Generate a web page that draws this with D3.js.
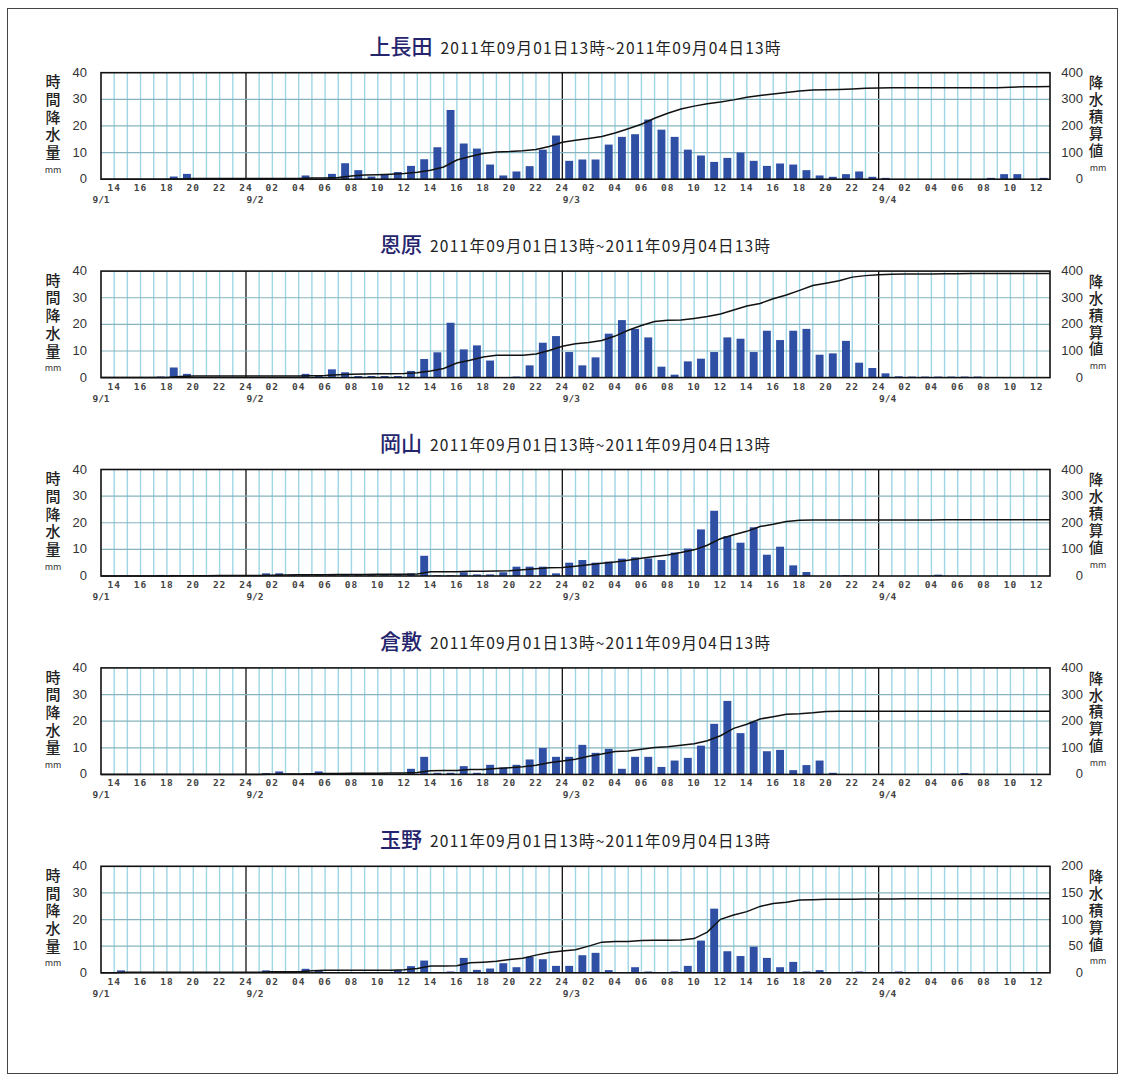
<!DOCTYPE html>
<html>
<head>
<meta charset="utf-8">
<script src="https://cdn.jsdelivr.net/npm/d3@7"></script>
<style>
  body { margin: 0; background: #fff; }
  text { font-family: "Noto Sans CJK JP", "Noto Sans", sans-serif; }
  .tick { font-family: "DejaVu Sans Mono", monospace; font-size: 9.5px; font-weight: bold; fill: #444; }
  .num { font-family: "Liberation Sans", Arial, sans-serif; font-size: 13px; fill: #333; }
  .vert { writing-mode: vertical-rl; font-weight: 500; fill: #222; }
</style>
</head>
<body>
<svg width="1125" height="1081"></svg>
<script>
var svg = d3.select("svg"),
	width = +svg.attr("width"),
	height = +svg.attr("height");

// Stations, one panel each
var stations = ["上長田", "恩原", "岡山", "倉敷", "玉野"];
var period = "2011年09月01日13時~2011年09月04日13時";
var rightMax = [400, 400, 400, 400, 200];

// x tick labels (every 2 hours, from 9/1 14時)
var tickLabels = ["14","16","18","20","22","24",
	"02","04","06","08","10","12","14","16","18","20","22","24",
	"02","04","06","08","10","12","14","16","18","20","22","24",
	"02","04","06","08","10","12"];
var dateLabels = ["9/1", "9/2", "9/3", "9/4"];
var dateHours = [0, 11, 35, 59];
var midnightHours = [11, 35, 59];

// Hourly rainfall (mm), 9/1 14時 ... 9/4 13時 (72 values)
var kamiNagata = [
	0,0,0,0,0,1,2,0,0,0,0,
	0,0,0,0,1.4,0,2,6,3.4,1,1.9,2.7,5,7.5,12,26,13.4,11.5,5.5,1.4,2.9,4.9,11.1,16.4,
	6.9,7.4,7.4,13,15.9,16.9,22.4,18.6,15.9,11.1,8.9,6.5,8,10,6.9,5,5.9,5.5,3.4,1.4,0.9,1.9,2.9,0.9,
	0.5,0,0,0,0,0,0,0,0.5,1.9,1.9,0,0.5];
var onbara = [
	0,0,0,0,0.4,3.8,1.4,0,0,0,0,
	0,0,0,0,1.4,0.8,3.1,2,0.6,0.6,0.6,0.6,2.5,7,9.5,20.6,10.6,12.1,6.4,0,0.4,4.6,13.1,15.6,
	9.6,4.6,7.6,16.5,21.6,18.3,15.1,4.1,1.1,6.1,7.1,9.6,15.1,14.6,9.6,17.6,14.1,17.6,18.3,8.6,9.1,13.8,5.6,3.6,
	1.6,0.5,0.4,0.4,0.4,0.4,0.4,0.4,0,0,0,0,0];
var okayama = [
	0,0,0,0,0.4,0.4,0.3,0.3,0.2,0.2,0.2,
	0,1,1,0.5,0.3,0.3,0.3,0.3,0.3,0.3,0.3,0.3,1,7.6,0.3,0.3,1.4,0.6,0.6,1.4,3.5,3.5,3.5,1,
	5,6,5,5.4,6.5,7,6.6,6,8.8,10.3,17.5,24.5,15,12.5,18.3,8,11,4,1.5,0,0,0.3,0,0,
	0,0,0,0,0.5,0,0,0,0,0,0,0,0];
var kurashiki = [
	0,0,0,0,0,0,0,0,0,0,0,
	0,0.5,1.1,0.3,0.3,1.1,0.3,0.3,0.3,0.3,0.3,0.3,2.1,6.6,0.6,0.6,3.1,0.6,3.6,2.6,3.6,5.6,9.9,6.6,
	6.6,11.1,8.1,9.6,2.1,6.6,6.6,2.8,5.2,6.2,10.8,19,27.6,15.5,19.8,8.7,9.2,1.6,3.5,5.2,0.6,0,0,0,
	0,0,0,0,0,0,0.5,0,0,0,0,0,0];
var tamano = [
	0,0.9,0,0,0,0,0,0,0,0,0,
	0,0.9,0.4,0,1.5,0.9,0,0,0,0,0,1,2.5,4.6,0,0.5,5.6,1.1,1.6,3.6,2.1,6,5.1,2.6,
	2.6,6.6,7.5,1,0,2.1,0.5,0,0.5,2.6,12.1,24.1,8.1,6.3,9.8,5.6,2.1,4.1,0.5,1,0,0,0.5,0,
	0,0.5,0,0,0,0,0,0,0,0,0,0,0];
var series = [kamiNagata, onbara, okayama, kurashiki, tamano];

// Layout
var plotLeft = 101, plotRight = 1050, plotH = 106.5;
var firstTop = 72.7, panelStep = 198.4;

var x = d3.scaleLinear().domain([0, 72]).range([plotLeft, plotRight]);
var step = x(1) - x(0);

// Outer frame
svg.append("rect")
	.attr("x", 7.5).attr("y", 8.5)
	.attr("width", 1110).attr("height", 1065)
	.attr("fill", "none").attr("stroke", "#444").attr("stroke-width", 1);

stations.forEach(function (name, si) {
	var top = firstTop + si * panelStep,
		bottom = top + plotH;
	var values = series[si];
	var yL = d3.scaleLinear().domain([0, 40]).range([bottom, top]);
	var yR = d3.scaleLinear().domain([0, rightMax[si]]).range([bottom, top]);
	var g = svg.append("g");

	// Title
	var title = g.append("text")
		.attr("x", 575).attr("y", top - 19)
		.attr("text-anchor", "middle");
	title.append("tspan")
		.attr("font-size", 21).attr("font-weight", 500).attr("fill", "#25256e")
		.text(name);
	title.append("tspan")
		.attr("font-size", 15.5).attr("fill", "#222").attr("dx", 8)
		.attr("textLength", 340).attr("lengthAdjust", "spacing")
		.text(period);

	// Vertical hourly grid
	g.append("g").selectAll("line")
		.data(d3.range(1, 72))
		.enter().append("line")
		.attr("x1", (d) => x(d)).attr("x2", (d) => x(d))
		.attr("y1", top).attr("y2", bottom)
		.attr("stroke", (d) => midnightHours.includes(d) ? "#111" : "#9fd6e6")
		.attr("stroke-width", (d) => midnightHours.includes(d) ? 1.3 : 1.4);

	// Horizontal grid
	g.append("g").selectAll("line")
		.data([10, 20, 30])
		.enter().append("line")
		.attr("x1", plotLeft).attr("x2", plotRight)
		.attr("y1", (d) => yL(d)).attr("y2", (d) => yL(d))
		.attr("stroke", "#86b3bd").attr("stroke-width", 1.2);

	// Bars
	g.append("g").selectAll("rect")
		.data(values)
		.enter().append("rect")
		.attr("x", (d, i) => x(i) + step * 0.22)
		.attr("width", step * 0.6)
		.attr("y", (d) => yL(d))
		.attr("height", (d) => bottom - yL(d))
		.attr("fill", "#2f4fa4");

	// Cumulative line
	var cum = [0].concat(Array.from(d3.cumsum(values)));
	g.append("path")
		.datum(cum)
		.attr("fill", "none")
		.attr("stroke", "#111")
		.attr("stroke-width", 1.5)
		.attr("d", d3.line().x((d, i) => x(i)).y((d) => yR(d)));

	// Frame
	g.append("rect")
		.attr("x", plotLeft).attr("y", top)
		.attr("width", plotRight - plotLeft).attr("height", plotH)
		.attr("fill", "none").attr("stroke", "#111").attr("stroke-width", 1.6);

	// Left axis labels
	g.append("g").selectAll("text")
		.data(yL.ticks(4))
		.enter().append("text")
		.attr("class", "num")
		.attr("x", 87).attr("y", (d) => yL(d) + 4)
		.attr("text-anchor", "end")
		.text((d) => d);

	// Right axis labels
	g.append("g").selectAll("text")
		.data(yR.ticks(4))
		.enter().append("text")
		.attr("class", "num")
		.attr("x", 1083).attr("y", (d) => yR(d) + 4)
		.attr("text-anchor", "end")
		.text((d) => d);

	// Axis titles (vertical)
	g.append("text").attr("class", "vert")
		.attr("x", 53).attr("y", top + 1.5)
		.attr("font-size", 15).attr("letter-spacing", 2.7)
		.text("時間降水量");
	g.append("text").attr("x", 53).attr("y", top + 100)
		.attr("text-anchor", "middle").attr("font-size", 9).attr("fill", "#333").text("mm");
	g.append("text").attr("class", "vert")
		.attr("x", 1096).attr("y", top + 3)
		.attr("font-size", 14.5).attr("letter-spacing", 2.4)
		.text("降水積算値");
	g.append("text").attr("x", 1098).attr("y", top + 98)
		.attr("text-anchor", "middle").attr("font-size", 9).attr("fill", "#333").text("mm");

	// Hour tick labels
	g.append("g").selectAll("text")
		.data(tickLabels)
		.enter().append("text")
		.attr("class", "tick")
		.attr("x", (d, i) => x(1 + i * 2))
		.attr("y", bottom + 12)
		.attr("text-anchor", "middle")
		.attr("letter-spacing", 1)
		.text((d) => d);

	// Date labels
	g.append("g").selectAll("text")
		.data(dateLabels)
		.enter().append("text")
		.attr("class", "tick")
		.attr("x", (d, i) => i === 0 ? x(dateHours[i]) : x(dateHours[i]) + 9)
		.attr("y", bottom + 24)
		.attr("text-anchor", "middle")
		.text((d) => d);
});
</script>
</body>
</html>
